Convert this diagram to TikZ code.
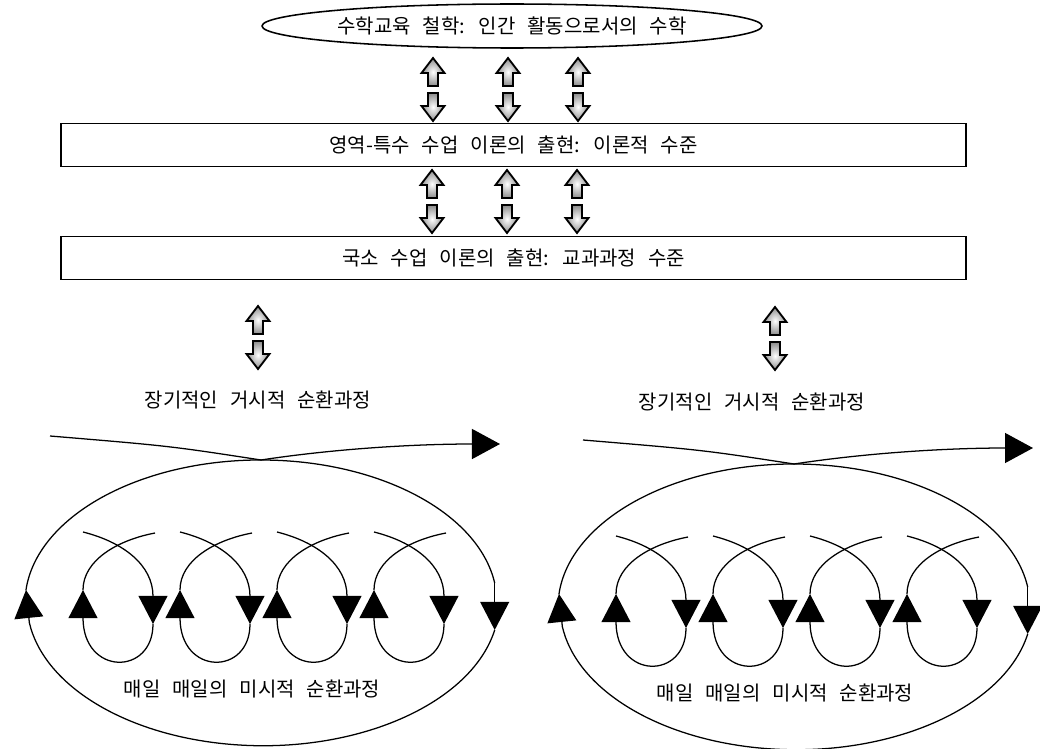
\documentclass[tikz,border=0pt]{standalone}
\usepackage{fontspec}
\newfontfamily\kr[WordSpace=2.7]{Noto Sans CJK KR}
\usetikzlibrary{shapes,calc,arrows.meta}

\tikzset{
  lbl/.style={font=\kr\fontsize{14.2}{17}\selectfont, inner sep=0pt},
  lvl/.style={lbl, draw, line width=1.1pt, minimum width=22.625cm, minimum height=1.075cm},
  blk/.style={draw=black, line width=1.3pt, line join=miter, inner color=white, outer color=gray!90},
  thinln/.style={line width=0.9pt},
  cyc/.style={thinln, -{Triangle[length=0.7cm, width=0.72cm]}}
}

\begin{document}
\begin{tikzpicture}[x=0.025cm, y=-0.025cm]
    \useasboundingbox (0,0) rectangle (1040,749);
    \node[lbl] (phil) at (512,26) {수학교육 철학: 인간 활동으로서의 수학};
    \draw[line width=1.1pt] (phil.center) ellipse [x radius=250, y radius=22];
    \node[lvl] (lvA) at (513.5,145) {영역-특수 수업 이론의 출현: 이론적 수준};
    \node[lvl] (lvB) at (513.5,258) {국소 수업 이론의 출현: 교과과정 수준};
    % double block arrows
    \foreach \x/\y in {433/58, 508/58, 578/58, 432/170, 507/170, 577/170, 258/306, 775/307} {
      \draw[blk] (\x,\y) -- ++(11.5,15) -- ++(-6.5,0) -- ++(0,13) -- ++(-10,0) -- ++(0,-13) -- ++(-6.5,0) -- cycle;
      \draw[blk] (\x,\y+63) -- ++(11.5,-15) -- ++(-6.5,0) -- ++(0,-13) -- ++(-10,0) -- ++(0,13) -- ++(-6.5,0) -- cycle;
    }
    \node[lbl] (macL) at (258,400) {장기적인 거시적 순환과정};
    \node[lbl] (macR) at (752,402) {장기적인 거시적 순환과정};
    % macro and micro cycles
    \foreach \dx/\dy/\nm in {0/0/L, 533/4/R} {
      \begin{scope}[shift={(\dx,\dy)}]
        \draw[thinln, -{Triangle[length=0.7cm, width=0.75cm]}] (50,436) .. controls (170,446) .. (261,460) .. controls (340,448) and (420,444) .. (500,444);
        \draw[thinln] (261,460) arc[start angle=270, end angle=352, x radius=236, y radius=143] coordinate (rgt);
        \draw[cyc] (rgt) -- (rgt |- 0,630) coordinate (rgtB);
        \draw[cyc] (rgtB) arc[start angle=11, end angle=172, x radius=236, y radius=143] -- (26,590);
        \draw[thinln] (25.9,590.5) arc[start angle=185, end angle=270, x radius=236, y radius=143];
        \foreach \a in {83,180,277,374} {
          \draw[cyc] (\a,532) .. controls (\a+40,542) and (\a+70,565) .. (\a+70,624);
          \draw[cyc] (\a+70,624) .. controls (\a+70,676) and (\a,676) .. (\a,590);
          \draw[thinln] (\a,590) .. controls (\a,560) and (\a+35,540) .. (\a+72,533);
        }
        \node[lbl] (mic\nm) at (252,689) {매일 매일의 미시적 순환과정};
      \end{scope}
    }
\end{tikzpicture}
\end{document}
